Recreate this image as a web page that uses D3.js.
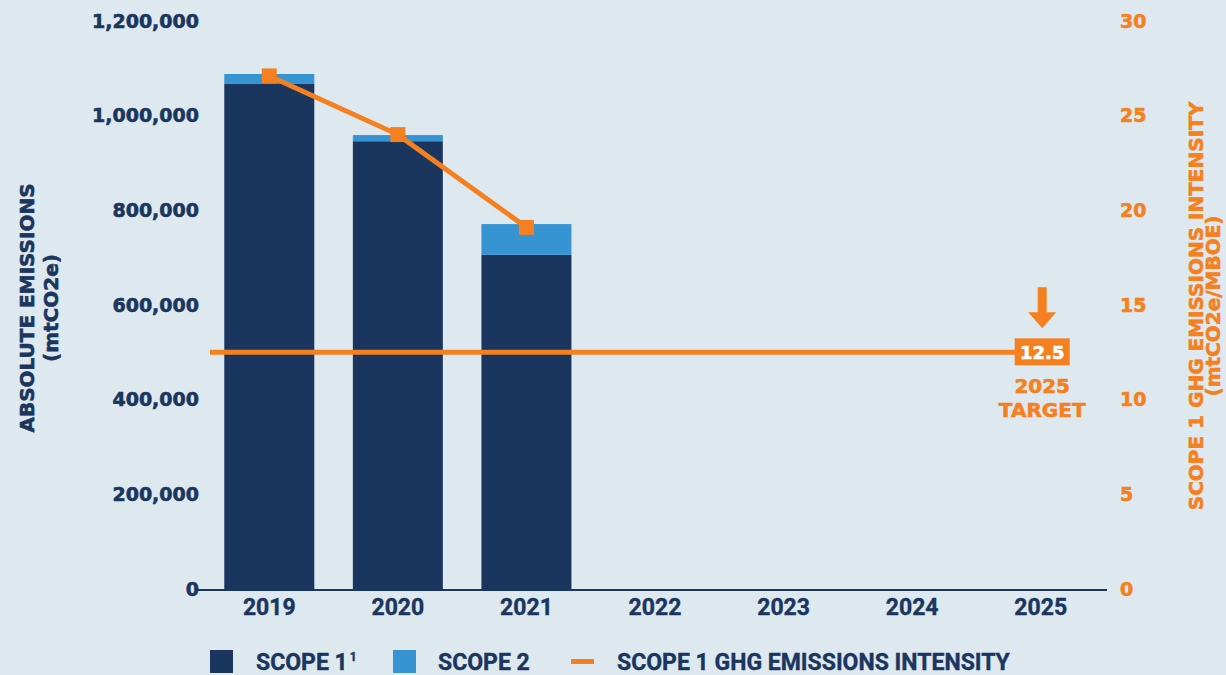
<!DOCTYPE html>
<html>
<head>
<meta charset="utf-8">
<script src="https://cdn.jsdelivr.net/npm/d3@7/dist/d3.min.js"></script>
<style>
  html, body { margin: 0; padding: 0; background: #dee8ef; }
  svg { display: block; }
  text.wide { font-family: "DejaVu Sans", "Open Sans", sans-serif; font-weight: 700; stroke-width: 0.6px; }
  text.cond { font-family: Roboto, "Liberation Sans Narrow", sans-serif; font-weight: 700; stroke-width: 0.4px; }
</style>
</head>
<body>
<svg id="chart" width="1226" height="675"></svg>
<script>
// Emissions by year (mtCO2e) and Scope 1 intensity (mtCO2e/MBOE)
const years = ["2019", "2020", "2021", "2022", "2023", "2024", "2025"];
const scope1 = [1067000, 946000, 706000];
const scope2 = [21000, 13000, 65000];
const intensity = [27.1, 24.0, 19.1];
const targetValue = 12.5;
const targetYear = "2025";
const leftTicks = [0, 200000, 400000, 600000, 800000, 1000000, 1200000];
const rightTicks = [0, 5, 10, 15, 20, 25, 30];

const NAVY = "#1b365e", BLUE = "#3594d1", ORANGE = "#f58020";

const svg = d3.select("#chart");
svg.append("rect").attr("width", 1226).attr("height", 675).attr("fill", "#dee8ef");

const x = d3.scaleBand().domain(years).range([205, 1105]).paddingInner(0.3).paddingOuter(0.15);
const yL = d3.scaleLinear().domain([0, 1200000]).range([589, 21]);
const yR = d3.scaleLinear().domain([0, 30]).range([589, 21]);

// Stacked bars
const stackData = scope1.map((s, i) => ({ year: years[i], scope1: s, scope2: scope2[i] }));
const series = d3.stack().keys(["scope1", "scope2"])(stackData);
const colors = { scope1: NAVY, scope2: BLUE };
svg.append("g").selectAll("g").data(series).join("g")
  .attr("fill", d => colors[d.key])
  .selectAll("rect").data(d => d).join("rect")
  .attr("x", d => x(d.data.year))
  .attr("width", x.bandwidth())
  .attr("y", d => yL(d[1]))
  .attr("height", d => yL(d[0]) - yL(d[1]));

// Left axis
const leftAxis = svg.append("g").attr("transform", "translate(207,0)")
  .call(d3.axisLeft(yL).tickValues(leftTicks).tickFormat(d3.format(",")).tickSize(0).tickPadding(8));
leftAxis.select(".domain").remove();
leftAxis.selectAll("text").attr("class", "wide").attr("fill", NAVY).attr("stroke", NAVY).attr("font-size", 19);

// Right axis
const rightAxis = svg.append("g").attr("transform", "translate(1107,0)")
  .call(d3.axisRight(yR).tickValues(rightTicks).tickSize(0).tickPadding(13));
rightAxis.select(".domain").remove();
rightAxis.selectAll("text").attr("class", "wide").attr("fill", ORANGE).attr("stroke", ORANGE).attr("font-size", 19);

// Bottom axis
const bottomAxis = svg.append("g").attr("transform", "translate(0,590)")
  .call(d3.axisBottom(x).tickSize(0).tickPadding(9));
bottomAxis.select(".domain").attr("stroke", NAVY).attr("stroke-width", 2)
  .attr("d", "M198,0H1107");
bottomAxis.selectAll("text").attr("class", "cond").attr("fill", NAVY).attr("stroke", NAVY)
  .attr("font-size", 23);

// Axis titles
const title = (tx, ty, color, label) =>
  svg.append("text").attr("class", "wide").attr("transform", `translate(${tx},${ty}) rotate(-90)`)
    .attr("text-anchor", "middle").attr("fill", color).attr("stroke", color).attr("font-size", 20)
    .text(label);
title(34, 308, NAVY, "ABSOLUTE EMISSIONS");
title(58, 308, NAVY, "(mtCO2e)");
title(1203, 306, ORANGE, "SCOPE 1 GHG EMISSIONS INTENSITY");
title(1220, 306, ORANGE, "(mtCO2e/MBOE)");

// Target line
const tx = x(targetYear) + x.bandwidth() / 2;
const ty = yR(targetValue);
svg.append("line").attr("x1", 210).attr("x2", tx).attr("y1", ty).attr("y2", ty)
  .attr("stroke", ORANGE).attr("stroke-width", 5);

// Intensity line + markers
const cx = (d, i) => x(years[i]) + x.bandwidth() / 2;
svg.append("path").datum(intensity)
  .attr("fill", "none").attr("stroke", ORANGE).attr("stroke-width", 5)
  .attr("d", d3.line().x(cx).y(d => yR(d)));
svg.append("g").selectAll("rect").data(intensity).join("rect")
  .attr("x", (d, i) => cx(d, i) - 7.5).attr("y", d => yR(d) - 7.5)
  .attr("width", 15).attr("height", 15).attr("fill", ORANGE);

// Target label box, arrow and caption
const ax = tx + 1.5;
svg.append("rect").attr("x", ax - 27.5).attr("y", ty - 14).attr("width", 55).attr("height", 27).attr("fill", ORANGE);
svg.append("text").attr("class", "wide").attr("x", ax).attr("y", ty + 7).attr("text-anchor", "middle")
  .attr("fill", "#ffffff").attr("stroke", "#ffffff").attr("font-size", 18).text(d3.format(".1f")(targetValue));
svg.append("path")
  .attr("d", `M${ax - 4.5},${ty - 65}H${ax + 4.5}V${ty - 40}H${ax + 14}L${ax},${ty - 24}L${ax - 14},${ty - 40}H${ax - 4.5}Z`)
  .attr("fill", ORANGE);
svg.append("text").attr("class", "wide").attr("x", ax).attr("y", ty + 41).attr("text-anchor", "middle")
  .attr("fill", ORANGE).attr("stroke", ORANGE).attr("font-size", 20).text(targetYear);
svg.append("text").attr("class", "wide").attr("x", ax).attr("y", ty + 65).attr("text-anchor", "middle")
  .attr("fill", ORANGE).attr("stroke", ORANGE).attr("font-size", 20).text("TARGET");

// Legend
const legend = svg.append("g");
const legendText = (lx, label) => legend.append("text").attr("class", "cond").attr("x", lx).attr("y", 670)
  .attr("fill", NAVY).attr("stroke", NAVY).attr("font-size", 23).text(label);
legend.append("rect").attr("x", 210).attr("y", 650).attr("width", 23).attr("height", 23).attr("fill", NAVY);
legendText(256, "SCOPE 1").append("tspan").attr("font-size", 12).attr("dx", 2).attr("dy", -9).text("1");
legend.append("rect").attr("x", 393).attr("y", 650).attr("width", 23).attr("height", 23).attr("fill", BLUE);
legendText(438, "SCOPE 2");
legend.append("rect").attr("x", 571).attr("y", 659).attr("width", 23).attr("height", 5).attr("fill", ORANGE);
legendText(617, "SCOPE 1 GHG EMISSIONS INTENSITY");
</script>
</body>
</html>
